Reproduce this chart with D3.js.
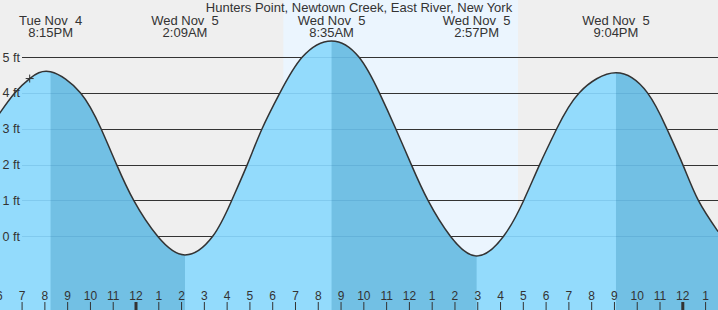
<!DOCTYPE html>
<html lang="en">
<head>
  <meta charset="UTF-8">
  <title>Hunters Point tide chart</title>
  <script src="https://d3js.org/d3.v7.min.js"></script>
  <style>
    body { margin: 0; background: #efefef; }
    svg { display: block; }
    text { font-family: "Liberation Sans", Arial, sans-serif; fill: #333; }
  </style>
</head>
<body>
  <div id="chart"></div>

  <script>
    const title = "Hunters Point, Newtown Creek, East River, New York";

    // tide heights (ft)
    const tideTimes = [
      "2025-11-04T18:00", "2025-11-04T18:40", "2025-11-04T19:20", "2025-11-04T20:15",
      "2025-11-04T21:34", "2025-11-04T22:28", "2025-11-04T23:09", "2025-11-04T23:54",
      "2025-11-05T00:57", "2025-11-05T02:09", "2025-11-05T03:22", "2025-11-05T04:12",
      "2025-11-05T04:53", "2025-11-05T05:32", "2025-11-05T06:19", "2025-11-05T07:18",
      "2025-11-05T08:35", "2025-11-05T09:47", "2025-11-05T10:41", "2025-11-05T11:24",
      "2025-11-05T12:05", "2025-11-05T12:49", "2025-11-05T13:48", "2025-11-05T14:57",
      "2025-11-05T16:08", "2025-11-05T17:01", "2025-11-05T17:43", "2025-11-05T18:28",
      "2025-11-05T19:27", "2025-11-05T21:04", "2025-11-05T22:27", "2025-11-05T23:18",
      "2025-11-06T00:00", "2025-11-06T00:41", "2025-11-06T01:33"
    ];
    const tideHeights = [
      3.42, 3.99, 4.40, 4.59,
      4.0, 3.0, 2.0, 1.0,
      0.0, -0.52, 0.0, 1.0,
      2.0, 3.0, 4.0, 5.0,
      5.45, 5.0, 4.0, 3.0,
      2.0, 1.0, 0.0, -0.55,
      0.0, 1.0, 2.0, 3.0,
      4.0, 4.56, 4.0, 3.0,
      2.0, 1.0, 0.13
    ];

    const extremeTimes = ["2025-11-04T20:15", "2025-11-05T02:09", "2025-11-05T08:35", "2025-11-05T14:57", "2025-11-05T21:04"];
    const extremeTypes = ["H", "L", "H", "L", "H"];
    const extremeDays = ["Tue Nov  4", "Wed Nov  5", "Wed Nov  5", "Wed Nov  5", "Wed Nov  5"];
    const extremeClock = ["8:15PM", "2:09AM", "8:35AM", "2:57PM", "9:04PM"];

    const daylight = ["2025-11-05T06:28", "2025-11-05T16:46"];
    const heightTicks = [0, 1, 2, 3, 4, 5];
    const nowTime = "2025-11-04T19:20";
    const nowHeight = 4.40;

    const parse = d3.timeParse("%Y-%m-%dT%H:%M");
    const width = 718, height = 310;

    const tide = tideTimes.map((t, i) => ({ date: parse(t), ft: tideHeights[i] }));
    const extremes = extremeTimes.map((t, i) => ({ date: parse(t), type: extremeTypes[i] }));

    const x = d3.scaleTime()
      .domain([parse("2025-11-05T00:00"), parse("2025-11-06T00:00")])
      .range([136, 682.8]);

    const y = d3.scaleLinear()
      .domain([0, 5])
      .range([236.3, 57.05]);

    const svg = d3.select("#chart")
      .append("svg")
      .attr("width", width)
      .attr("height", height);

    svg.append("rect")
      .attr("width", width)
      .attr("height", height)
      .attr("fill", "#efefef");

    svg.append("rect")
      .attr("x", x(parse(daylight[0])))
      .attr("width", x(parse(daylight[1])) - x(parse(daylight[0])))
      .attr("height", height)
      .attr("fill", "#ebf5fe");

    // grid lines
    const grid = svg.append("g");
    grid.selectAll("line")
      .data(heightTicks)
      .enter().append("line")
      .attr("x1", 22)
      .attr("x2", width)
      .attr("y1", d => Math.round(y(d)) + 0.5)
      .attr("y2", d => Math.round(y(d)) + 0.5)
      .attr("stroke", "#333");

    const curve = d3.curveNatural;

    const area = d3.area()
      .x(d => x(d.date))
      .y0(height)
      .y1(d => y(d.ft))
      .curve(curve);

    const line = d3.line()
      .x(d => x(d.date))
      .y(d => y(d.ft))
      .curve(curve);

    svg.append("clipPath")
      .attr("id", "water")
      .append("path")
      .attr("d", area(tide));

    const water = svg.append("g").attr("clip-path", "url(#water)");

    water.append("rect")
      .attr("width", width)
      .attr("height", height)
      .attr("fill", "#93dbfc");

    // falling tide (high -> next low) darker
    const falling = [];
    extremes.forEach((e, i) => {
      if (e.type === "H") {
        const next = extremes[i + 1];
        falling.push([e.date, next ? next.date : x.invert(width + 5)]);
      }
    });

    water.selectAll(".fall")
      .data(falling)
      .enter().append("rect")
      .attr("class", "fall")
      .attr("x", d => x(d[0]))
      .attr("width", d => x(d[1]) - x(d[0]))
      .attr("height", height)
      .attr("fill", "#72c0e4");

    water.selectAll(".faint")
      .data(heightTicks)
      .enter().append("line")
      .attr("class", "faint")
      .attr("x1", 22)
      .attr("x2", width)
      .attr("y1", d => Math.round(y(d)) + 0.5)
      .attr("y2", d => Math.round(y(d)) + 0.5)
      .attr("stroke", "rgba(0,80,140,0.12)");

    svg.append("path")
      .attr("d", line(tide))
      .attr("fill", "none")
      .attr("stroke", "#333")
      .attr("stroke-width", 1.5);

    // y labels
    svg.selectAll(".ylab")
      .data(heightTicks)
      .enter().append("text")
      .attr("class", "ylab")
      .attr("x", 2.5)
      .attr("y", d => y(d) + 4.5)
      .style("font-size", "12.5px")
      .text(d => d + " ft");

    // hour ticks along the bottom
    const hours = d3.timeHour.range(x.invert(-5), x.invert(width + 5));
    const isMidnight = d => d.getHours() === 0;

    svg.selectAll(".tick")
      .data(hours)
      .enter().append("rect")
      .attr("class", "tick")
      .attr("x", d => x(d) - (isMidnight(d) ? 1.5 : 0.5))
      .attr("y", 302)
      .attr("width", d => isMidnight(d) ? 3 : 1)
      .attr("height", 8)
      .attr("fill", "#333");

    svg.selectAll(".hlab")
      .data(hours)
      .enter().append("text")
      .attr("class", "hlab")
      .attr("x", d => x(d))
      .attr("y", 300)
      .attr("text-anchor", "middle")
      .style("font-size", "12px")
      .text(d3.timeFormat("%-I"));

    svg.append("text")
      .attr("x", width / 2)
      .attr("y", 12)
      .attr("text-anchor", "middle")
      .style("font-size", "13px")
      .text(title);

    const labels = svg.selectAll(".ext")
      .data(extremes)
      .enter().append("g")
      .attr("class", "ext")
      .attr("transform", d => `translate(${x(d.date)},0)`);

    labels.append("text")
      .attr("y", 24.5)
      .attr("text-anchor", "middle")
      .style("font-size", "13px")
      .style("white-space", "pre")
      .text((d, i) => extremeDays[i]);

    labels.append("text")
      .attr("y", 37)
      .attr("text-anchor", "middle")
      .style("font-size", "13px")
      .text((d, i) => extremeClock[i]);

    // current time marker
    const nx = x(parse(nowTime)), ny = y(nowHeight);
    svg.append("path")
      .attr("d", `M${nx - 4},${ny}H${nx + 4}M${nx},${ny - 4}V${ny + 4}`)
      .attr("stroke", "#333")
      .attr("stroke-width", 1);
  </script>
</body>
</html>
